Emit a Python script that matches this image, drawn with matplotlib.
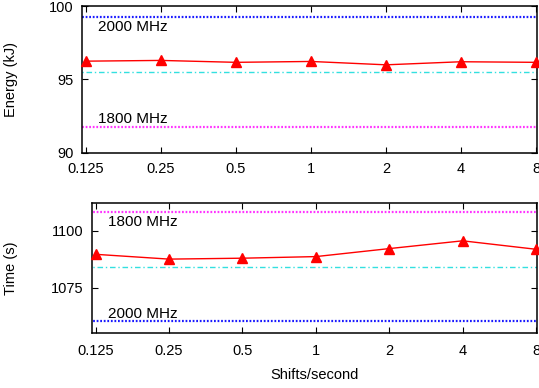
import matplotlib
matplotlib.use("Agg")
import matplotlib.pyplot as plt
from matplotlib.ticker import FixedLocator, FixedFormatter, NullLocator

plt.rcParams['font.family'] = ['Liberation Sans', 'DejaVu Sans']
plt.rcParams['font.size'] = 10.5

# shifts per second (log2 axis)
shifts = [0.125, 0.25, 0.5, 1, 2, 4, 8]
shift_labels = ["0.125", "0.25", "0.5", "1", "2", "4", "8"]

# energy (kJ)
energy = [96.24, 96.29, 96.16, 96.22, 95.99, 96.20, 96.16]
energy_2000 = 99.23
energy_1800 = 91.74
energy_ref = 95.48

# time (s)
runtime = [1089.6, 1087.5, 1087.9, 1088.6, 1092.1, 1095.5, 1091.8]
time_2000 = 1060.3
time_1800 = 1108.1
time_ref = 1084.1

fig = plt.figure(figsize=(5.39, 3.88), dpi=100)
ax1 = fig.add_axes([0.1521, 0.6065, 0.8442, 0.3780])
ax2 = fig.add_axes([0.1701, 0.1418, 0.8262, 0.3342])


def style_axis(ax, xpad):
    ax.set_xscale('log', base=2)
    ax.xaxis.set_major_locator(FixedLocator(shifts))
    ax.xaxis.set_major_formatter(FixedFormatter(shift_labels))
    ax.xaxis.set_minor_locator(NullLocator())
    ax.set_xlim(2 ** -3.053, 2 ** 3.013)
    ax.tick_params(direction='in', top=True, right=True, length=4, width=0.8)
    ax.tick_params(axis='x', pad=xpad)
    ax.tick_params(axis='y', pad=6)
    for s in ax.spines.values():
        s.set_linewidth(1.1)


def hline(ax, y, color, style, lw):
    ax.plot([shifts[0] / 2, shifts[-1] * 2], [y, y], color=color, ls=style, lw=lw)


# energy panel
hline(ax1, energy_2000, '#1a1aff', (0, (0.8, 0.8)), 1.6)
hline(ax1, energy_1800, '#ff33ff', (0, (0.8, 0.8)), 1.6)
hline(ax1, energy_ref, '#33e0e0', (0, (4, 2, 1, 2)), 1.0)
ax1.plot(shifts, energy, color='red', lw=1.0, marker='^', markersize=7, clip_on=False, zorder=5)
ax1.text(0.14, 98.6, "2000 MHz", ha='left', va='center', fontsize=11)
ax1.text(0.14, 92.3, "1800 MHz", ha='left', va='center', fontsize=11)
ax1.set_ylim(90, 100)
ax1.set_yticks([90, 95, 100])
ax1.set_ylabel("Energy (kJ)")
ax1.yaxis.set_label_coords(-0.141, 0.5)
style_axis(ax1, 7)

# time panel
hline(ax2, time_1800, '#ff33ff', (0, (0.8, 0.8)), 1.6)
hline(ax2, time_2000, '#1a1aff', (0, (0.8, 0.8)), 1.6)
hline(ax2, time_ref, '#33e0e0', (0, (4, 2, 1, 2)), 1.0)
ax2.plot(shifts, runtime, color='red', lw=1.0, marker='^', markersize=7, clip_on=False, zorder=5)
ax2.text(0.14, 1103.6, "1800 MHz", ha='left', va='center', fontsize=11)
ax2.text(0.14, 1063.6, "2000 MHz", ha='left', va='center', fontsize=11)
ax2.set_ylim(1055.2, 1111.9)
ax2.set_yticks([1075, 1100])
ax2.set_ylabel("Time (s)")
ax2.yaxis.set_label_coords(-0.166, 0.5)
ax2.set_xlabel("Shifts/second")
ax2.xaxis.set_label_coords(0.5, -0.27)
style_axis(ax2, 8)

fig.savefig("out.png", dpi=100)
